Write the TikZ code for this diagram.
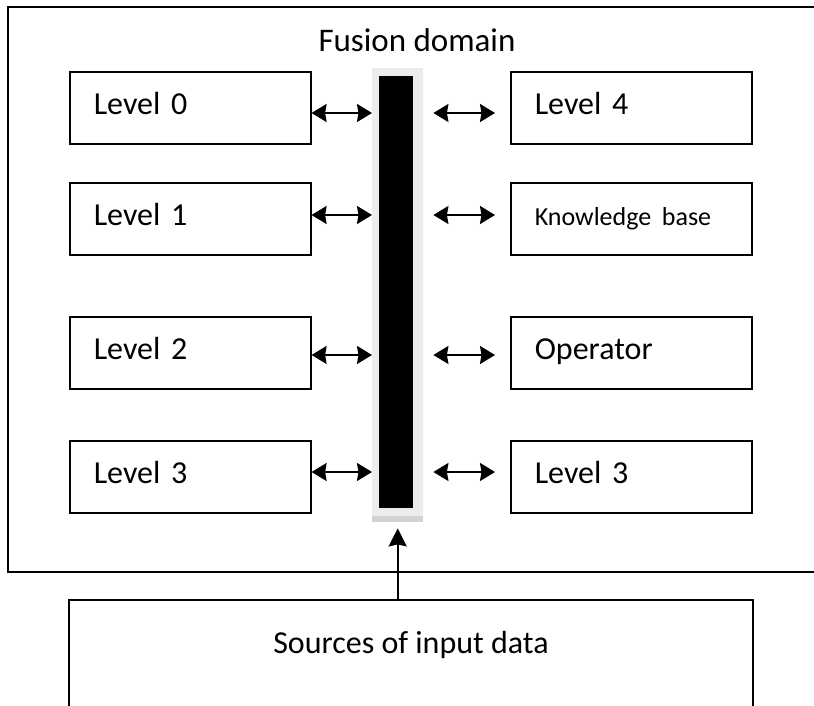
\documentclass[tikz,border=0pt]{standalone}
\usepackage{fontspec}
\setmainfont{Carlito}
\usetikzlibrary{arrows.meta,positioning}
\newcommand\kbfont{\fontsize{26}{31}\selectfont}
\begin{document}
\begin{tikzpicture}[x=1pt,y=-1pt,
   lvlbox/.style={draw,line width=1.6pt,minimum width=241pt,minimum height=72pt,anchor=north west,
     align=left,text width=193pt,inner xsep=24pt,text height=21pt,text depth=8pt,
     font=\fontsize{32}{38}\selectfont},
   link/.style={line width=2pt,>={Stealth[length=15pt,width=18pt,inset=1.5pt]},<->}]
   \useasboundingbox (0,0) rectangle (814,706);
   \clip (0,0) rectangle (814,706);
   % fusion domain frame
   \draw[line width=1.6pt] (8,7) rectangle (840,572);
   \node[font=\fontsize{33}{38}\selectfont] (title) at (417,40) {Fusion domain};
   % central bus
   \node[fill=gray!15,inner sep=0,minimum width=51pt,minimum height=454pt,anchor=north west] (frame) at (372,68) {};
   \fill[gray!35] ([yshift=6pt]frame.south west) rectangle (frame.south east);
   \node[fill=black,inner sep=0,minimum width=34pt,minimum height=432pt,anchor=north] (bar) at (396,76) {};
   % levels
   \foreach \i/\top/\ay/\ltxt/\rtxt in {0/71/113/Level 0/Level 4, 1/182/215/Level 1/{\kbfont Knowledge base},
       2/316/355/Level 2/Operator, 3/440/472/Level 3/Level 3} {
     \node[lvlbox] (l\i) at (69,\top) {\ltxt};
     \node[lvlbox] (r\i) at (510,\top) {\rtxt};
     \coordinate (a\i) at (0,\ay);
     \draw[link] (l\i.east |- a\i) -- (frame.west |- a\i);
     \draw[link,shorten <=10pt,shorten >=15pt] (frame.east |- a\i) -- (r\i.west |- a\i);
   }
   % input data
   \node[draw,line width=1.6pt,anchor=north,minimum width=684pt,inner ysep=33pt,text height=21pt,text depth=75pt,
     font=\fontsize{32}{38}\selectfont] (src) at (411,599) {Sources of input data};
   \draw[line width=2pt,-{Stealth[length=18pt,width=18pt,inset=2pt]},shorten >=6pt] (src.north -| frame.south) -- (frame.south);
\end{tikzpicture}
\end{document}
